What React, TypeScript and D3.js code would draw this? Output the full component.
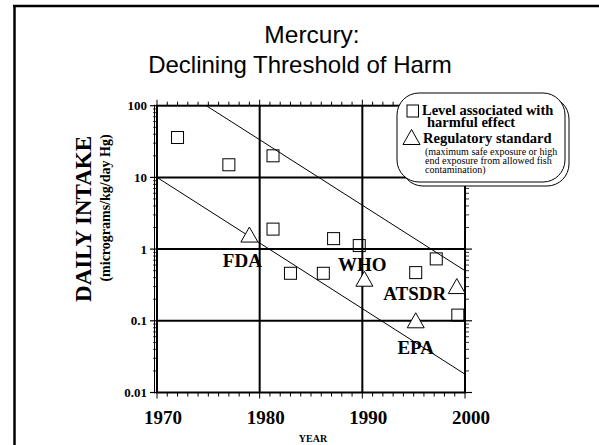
import React from 'react';
import * as d3 from 'd3';

// ---- data ----
const squareYears = [1972, 1977, 1981.3, 1981.3, 1983, 1986.2, 1987.2, 1989.7, 1995.2, 1997.2, 1999.3];
const squareValues = [36, 15, 20, 1.9, 0.46, 0.46, 1.4, 1.12, 0.47, 0.73, 0.12];
const triangleLabels = ['FDA', 'WHO', 'EPA', 'ATSDR'];
const triangleYears = [1979, 1990.2, 1995.2, 1999.2];
const triangleValues = [1.57, 0.38, 0.1, 0.3];
const upperLineYears = [1974.8, 2000];
const upperLineValues = [100, 0.5];
const lowerLineYears = [1970, 2000];
const lowerLineValues = [10, 0.018];
const xTickValues = [1970, 1980, 1990, 2000];
const yTickValues = [100, 10, 1, 0.1, 0.01];
const yTickLabels = ['100', '10', '1', '0.1', '0.01'];

// ---- layout ----
const W = 599, H = 445;
const L = 157, R = 465, T = 105.7, B = 392.5;
const labelOffsets: Record<string, [number, number]> = {
  FDA: [-7, 31.5],
  WHO: [-2, -8.5],
  EPA: [0, 33.5],
  ATSDR: [-42, 13.5],
};
const serif = '"Liberation Serif", "Times New Roman", serif';
const sans = '"Liberation Sans", Arial, sans-serif';

export default function App() {
  const x = d3.scaleLinear().domain([1970, 2000]).range([L, R]);
  const y = d3.scaleLog().domain([0.01, 100]).range([B, T]);

  const years = d3.range(1970, 2001);
  const minor: number[] = [];
  [0.01, 0.1, 1, 10].forEach((d) => {
    for (let k = 2; k <= 9; k++) minor.push(d * k);
  });

  const line = d3
    .line<[number, number]>()
    .x((d) => x(d[0]))
    .y((d) => y(d[1]));
  const upper = upperLineYears.map((yr, i) => [yr, upperLineValues[i]] as [number, number]);
  const lower = lowerLineYears.map((yr, i) => [yr, lowerLineValues[i]] as [number, number]);

  const sq = 12;
  const triPath = (cx: number, cy: number) =>
    `M${cx},${cy - 8}L${cx + 8.5},${cy + 7}L${cx - 8.5},${cy + 7}Z`;

  const lgX = 397, lgY = 93, lgW = 168, lgH = 89, lgR = 22;

  return (
    <svg width={W} height={H} style={{ position: 'absolute', left: 0, top: 0, background: '#fff' }}>
      <rect x={0} y={0} width={W} height={H} fill="#fff" />
      {/* outer frame */}
      <line x1={14.5} y1={5} x2={14.5} y2={H} stroke="#000" strokeWidth={2.5} />
      <line x1={13} y1={6} x2={W} y2={6} stroke="#000" strokeWidth={2.5} />

      {/* title */}
      <text x={312} y={42.5} textAnchor="middle" fontFamily={sans} fontSize={24.5}>Mercury:</text>
      <text x={300} y={72.5} textAnchor="middle" fontFamily={sans} fontSize={24}>Declining Threshold of Harm</text>

      {/* grid lines */}
      {[1980, 1990].map((v) => (
        <line key={'gx' + v} x1={x(v)} x2={x(v)} y1={T} y2={B} stroke="#000" strokeWidth={2} />
      ))}
      {[10, 1, 0.1].map((v) => (
        <line key={'gy' + v} x1={L} x2={R} y1={y(v)} y2={y(v)} stroke="#000" strokeWidth={2} />
      ))}

      {/* x ticks top & bottom */}
      {years.map((v) => (
        <g key={'xt' + v}>
          <line x1={x(v)} x2={x(v)} y1={B} y2={B + (v % 10 === 0 ? 6 : 4)} stroke="#000" strokeWidth={1} />
          <line x1={x(v)} x2={x(v)} y1={T} y2={T - (v % 10 === 0 ? 6 : 4)} stroke="#000" strokeWidth={1} />
        </g>
      ))}
      {/* y ticks left & right */}
      {yTickValues.map((v) => (
        <g key={'yt' + v}>
          <line x1={L} x2={L - 7} y1={y(v)} y2={y(v)} stroke="#000" strokeWidth={1.2} />
          <line x1={R} x2={R + 7} y1={y(v)} y2={y(v)} stroke="#000" strokeWidth={1.2} />
        </g>
      ))}
      {minor.map((v) => (
        <g key={'ym' + v}>
          <line x1={L} x2={L - 4} y1={y(v)} y2={y(v)} stroke="#000" strokeWidth={0.8} />
          <line x1={R} x2={R + 4} y1={y(v)} y2={y(v)} stroke="#000" strokeWidth={0.8} />
        </g>
      ))}

      {/* regression lines */}
      <path d={line(upper) || ''} fill="none" stroke="#000" strokeWidth={1} />
      <path d={line(lower) || ''} fill="none" stroke="#000" strokeWidth={1} />

      {/* plot frame */}
      <rect x={L} y={T} width={R - L} height={B - T} fill="none" stroke="#000" strokeWidth={2} />
      <line x1={L - 2.5} x2={L - 2.5} y1={T - 1} y2={B + 1} stroke="#000" strokeWidth={1} />

      {/* squares */}
      {squareYears.map((yr, i) => (
        <rect key={'sq' + i} x={x(yr) - sq / 2} y={y(squareValues[i]) - sq / 2} width={sq} height={sq}
          fill="none" stroke="#000" strokeWidth={1} />
      ))}
      {/* triangles */}
      {triangleYears.map((yr, i) => (
        <path key={'tr' + i} d={triPath(x(yr), y(triangleValues[i]))} fill="#fff" stroke="#000" strokeWidth={1} />
      ))}
      {triangleLabels.map((lab, i) => {
        const [dx, dy] = labelOffsets[lab];
        return (
          <text key={'tl' + lab} x={x(triangleYears[i]) + dx} y={y(triangleValues[i]) + dy}
            textAnchor="middle" fontFamily={serif} fontWeight="bold" fontSize={19}>{lab}</text>
        );
      })}

      {/* y tick labels */}
      {yTickValues.map((v, i) => (
        <text key={'yl' + v} x={147} y={y(v) + 4.5} textAnchor="end" fontFamily={serif} fontWeight="bold" fontSize={13}>
          {yTickLabels[i]}
        </text>
      ))}
      {/* x tick labels */}
      {xTickValues.map((v) => (
        <text key={'xl' + v} x={x(v) + 6} y={424} textAnchor="middle" fontFamily={serif} fontWeight="bold" fontSize={19}>
          {v}
        </text>
      ))}
      <text x={313} y={442} textAnchor="middle" fontFamily={serif} fontWeight="bold" fontSize={10}>YEAR</text>

      {/* y axis title */}
      <g transform="translate(91,219) rotate(-90)">
        <text x={0} y={0} textAnchor="middle" fontFamily={serif} fontWeight="bold" fontSize={23}>DAILY INTAKE</text>
      </g>
      <g transform="translate(110,208) rotate(-90)">
        <text x={0} y={0} textAnchor="middle" fontFamily={serif} fontWeight="bold" fontSize={14}>(micrograms/kg/day Hg)</text>
      </g>

      {/* legend */}
      <rect x={lgX + 4} y={lgY + 4} width={lgW} height={lgH} rx={lgR} ry={lgR} fill="#fff" stroke="#000" strokeWidth={1} />
      <rect x={lgX} y={lgY} width={lgW} height={lgH} rx={lgR} ry={lgR} fill="#fff" stroke="#000" strokeWidth={1} />
      <rect x={407} y={105} width={11.5} height={12} fill="none" stroke="#000" strokeWidth={1} />
      <text x={422} y={115} fontFamily={serif} fontWeight="bold" fontSize={14.5}>Level associated with</text>
      <text x={427} y={127} fontFamily={serif} fontWeight="bold" fontSize={14.5}>harmful effect</text>
      <path d={triPath(411.5, 137.5)} fill="#fff" stroke="#000" strokeWidth={1} />
      <text x={423} y={143} fontFamily={serif} fontWeight="bold" fontSize={14.5}>Regulatory standard</text>
      <text x={425} y={155} fontFamily={serif} fontSize={10}>(maximum safe exposure or high</text>
      <text x={425} y={164} fontFamily={serif} fontSize={10}>end exposure from allowed fish</text>
      <text x={425} y={173} fontFamily={serif} fontSize={10}>contamination)</text>
    </svg>
  );
}
